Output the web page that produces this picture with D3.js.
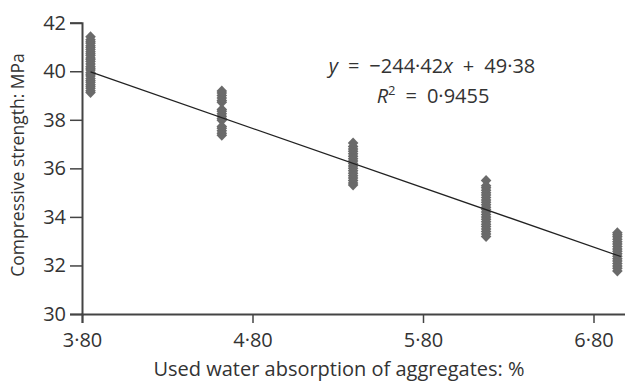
<!DOCTYPE html>
<html>
<head>
<meta charset="utf-8">
<script src="https://cdn.jsdelivr.net/npm/d3@7"></script>
<style>
body { margin: 0; background: #fff; }
text { font-family: "Open Sans", "Noto Sans", sans-serif; fill: #333; }
</style>
</head>
<body>
<script>
//water absorption of each mix (x position of each column)
var absorption = [3.85, 4.62, 5.39, 6.17, 6.94];

//compressive strength readings for each mix, MPa
var strength1 = [39.12, 39.2, 39.3, 39.38, 39.45, 39.55, 39.62, 39.7, 39.8, 39.88, 39.95, 40.05, 40.12, 40.2,
                 40.3, 40.4, 40.48, 40.55, 40.65, 40.72, 40.8, 40.9, 40.98, 41.05, 41.15, 41.22, 41.3, 41.42];
var strength2 = [37.36, 37.45, 37.55, 37.65, 37.72, 37.98, 38.05, 38.15, 38.25, 38.35, 38.42,
                 38.72, 38.8, 38.9, 39.0, 39.1, 39.19];
var strength3 = [35.31, 35.4, 35.5, 35.6, 35.7, 35.8, 35.9, 36.0, 36.1, 36.2, 36.3, 36.4, 36.5,
                 36.6, 36.7, 36.8, 36.9, 37.04];
var strength4 = [33.19, 33.3, 33.4, 33.5, 33.6, 33.7, 33.8, 33.9, 34.0, 34.1, 34.2, 34.3, 34.4,
                 34.5, 34.6, 34.7, 34.8, 34.9, 35.0, 35.1, 35.2, 35.28, 35.5];
var strength5 = [31.77, 31.88, 31.98, 32.08, 32.18, 32.28, 32.38, 32.48, 32.58, 32.68, 32.78,
                 32.88, 32.98, 33.08, 33.18, 33.26, 33.35];

//fitted line, x in % / 100
var slope = -244.42;
var intercept = 49.38;
var lineX = [3.85, 6.96];

var xTicks = [3.8, 4.8, 5.8, 6.8];
var yTicks = [30, 32, 34, 36, 38, 40, 42];

var width = 625, height = 381;

var svg = d3.select("body").append("svg")
    .attr("width", width)
    .attr("height", height);

var x = d3.scaleLinear().domain([3.8, 7.0]).range([82, 627.6]);
var y = d3.scaleLinear().domain([30, 42]).range([314, 22.7]);

var dot = function(v) { return v.toFixed(2).replace(".", "\u00b7"); };

//axes
var xAxis = svg.append("g")
    .attr("transform", "translate(0," + y(30) + ")")
    .call(d3.axisBottom(x).tickValues(xTicks).tickSize(9).tickPadding(10).tickFormat(dot));

var yAxis = svg.append("g")
    .attr("transform", "translate(" + x(3.8) + ",0)")
    .call(d3.axisLeft(y).tickValues(yTicks).tickSize(12).tickPadding(4).tickFormat(d3.format("d")));

[xAxis, yAxis].forEach(function(a) {
    a.select(".domain").attr("stroke", "#444").attr("stroke-width", 2);
    a.selectAll(".tick line").attr("stroke", "#444").attr("stroke-width", 1.5);
    a.selectAll(".tick text").style("font-size", "20px").attr("fill", "#333");
});

//points
var cols = [strength1, strength2, strength3, strength4, strength5];
var pts = [];
cols.forEach(function(c, i) {
    c.forEach(function(v) { pts.push({x: absorption[i], y: v}); });
});

var diamond = "M0,-5.5L5.3,0L0,5.5L-5.3,0Z";
svg.append("g").selectAll("path")
    .data(pts)
    .enter()
    .append("path")
    .attr("d", diamond)
    .attr("transform", function(d) { return "translate(" + x(d.x) + "," + y(d.y) + ")"; })
    .attr("fill", "#6a6a6a");

//regression line
svg.append("line")
    .attr("x1", x(lineX[0]))
    .attr("y1", y(slope * lineX[0] / 100 + intercept))
    .attr("x2", x(lineX[1]))
    .attr("y2", y(slope * lineX[1] / 100 + intercept))
    .attr("stroke", "#222")
    .attr("stroke-width", 1.3);

//equation
var eq = svg.append("text")
    .attr("x", 432)
    .attr("y", 73)
    .attr("text-anchor", "middle")
    .style("font-size", "20px");
eq.append("tspan").style("font-style", "italic").text("y");
eq.append("tspan").text("\u2002=\u2002\u2212244\u00b742");
eq.append("tspan").style("font-style", "italic").text("x");
eq.append("tspan").text("\u2002+\u200249\u00b738");

var r2 = svg.append("text")
    .attr("x", 433)
    .attr("y", 103)
    .attr("text-anchor", "middle")
    .style("font-size", "20px");
r2.append("tspan").style("font-style", "italic").text("R");
r2.append("tspan").attr("dy", -8).style("font-size", "13px").text("2");
r2.append("tspan").attr("dy", 8).text("\u2002=\u20020\u00b79455");

//axis titles
svg.append("text")
    .attr("x", 339)
    .attr("y", 376)
    .attr("text-anchor", "middle")
    .style("font-size", "20px")
    .text("Used water absorption of aggregates: %");

svg.append("text")
    .attr("transform", "translate(24,165) rotate(-90)")
    .attr("text-anchor", "middle")
    .style("font-size", "17.5px")
    .text("Compressive strength: MPa");
</script>
</body>
</html>
